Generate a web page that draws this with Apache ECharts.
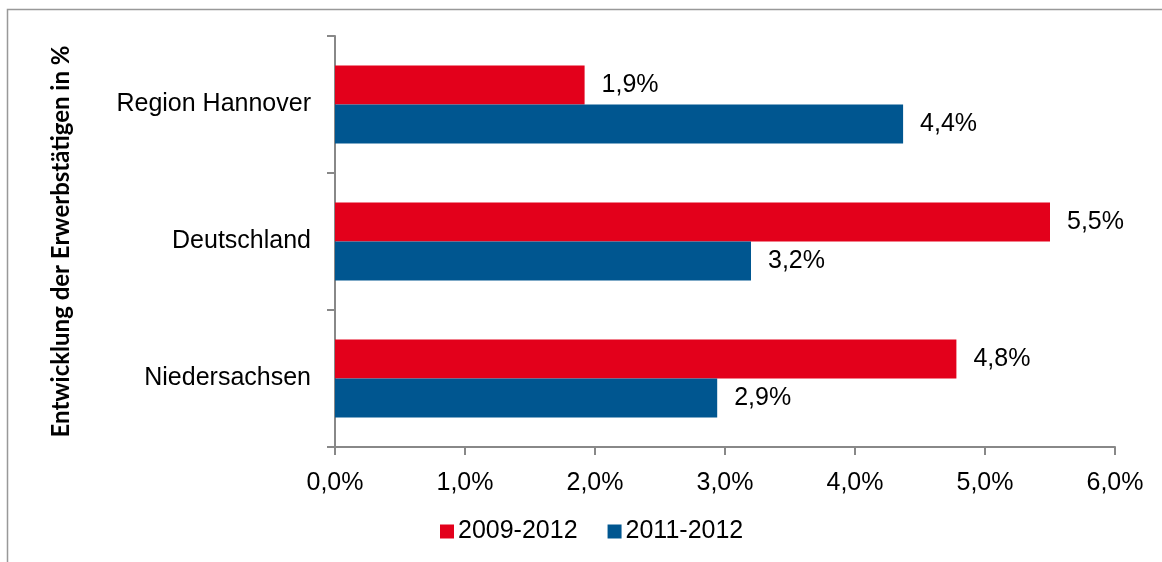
<!DOCTYPE html>
<html>
<head>
<meta charset="utf-8">
<script src="https://cdn.jsdelivr.net/npm/echarts@6/dist/echarts.min.js"></script>
<style>
  html, body { margin: 0; padding: 0; background: #fff; }
  #chart { width: 1162px; height: 562px; }
</style>
</head>
<body>
<div id="chart"></div>
<script>
var regions = ['Region Hannover', 'Deutschland', 'Niedersachsen'];
var seriesNames = ['2009-2012', '2011-2012'];
var v2009 = [1.92, 5.5, 4.78];
var v2011 = [4.37, 3.2, 2.94];
var colors = ['#e3001b', '#005690'];

function pct(v) {
  return v.toFixed(1).replace('.', ',') + '%';
}

var font = '"Liberation Sans", Arial, sans-serif';

function barSeries(name, data, color) {
  return {
    name: name,
    type: 'bar',
    data: data,
    barWidth: 39,
    barGap: '0%',
    itemStyle: { color: color },
    label: {
      show: true,
      position: 'right',
      distance: 17,
      fontFamily: font,
      fontSize: 25,
      color: '#000',
      padding: [4, 0, 0, 0],
      formatter: function (p) { return pct(p.value); }
    }
  };
}

var option = {
  animation: false,
  backgroundColor: '#fff',
  graphic: [{
    type: 'rect',
    shape: { x: 7.5, y: 9.5, width: 1300, height: 700 },
    style: { fill: 'none', stroke: '#999', lineWidth: 1.5 },
    silent: true
  }],
  legend: {
    left: 435,
    top: 514,
    icon: 'rect',
    itemWidth: 14,
    itemHeight: 14,
    itemGap: 30,
    textStyle: { fontFamily: font, fontSize: 25, color: '#000', padding: [0, 0, 0, -1] },
    data: seriesNames
  },
  grid: { left: 335, right: 47, top: 36, bottom: 115 },
  xAxis: {
    type: 'value',
    min: 0,
    max: 6,
    interval: 1,
    splitLine: { show: false },
    axisLine: { show: true, lineStyle: { color: '#888', width: 2 } },
    axisTick: { show: true, length: 8, lineStyle: { color: '#888', width: 2 } },
    axisLabel: {
      margin: 24,
      fontFamily: font,
      fontSize: 25,
      color: '#000',
      formatter: function (v) { return pct(v); }
    }
  },
  yAxis: {
    type: 'category',
    inverse: true,
    data: regions,
    name: 'Entwicklung der Erwerbstätigen in %',
    nameLocation: 'middle',
    nameGap: 262,
    nameTextStyle: { fontFamily: 'Lato, "Open Sans", sans-serif', fontWeight: 'bold', fontSize: 24, color: '#000' },
    axisLine: { show: true, lineStyle: { color: '#888', width: 2 } },
    axisTick: { show: true, length: 8, lineStyle: { color: '#888', width: 2 } },
    axisLabel: { margin: 24, fontFamily: font, fontSize: 25, color: '#000', padding: [8, 0, 0, 0] }
  },
  series: [
    barSeries(seriesNames[0], v2009, colors[0]),
    barSeries(seriesNames[1], v2011, colors[1])
  ]
};

var myChart = echarts.init(document.getElementById('chart'));
myChart.setOption(option, true);
</script>
</body>
</html>
